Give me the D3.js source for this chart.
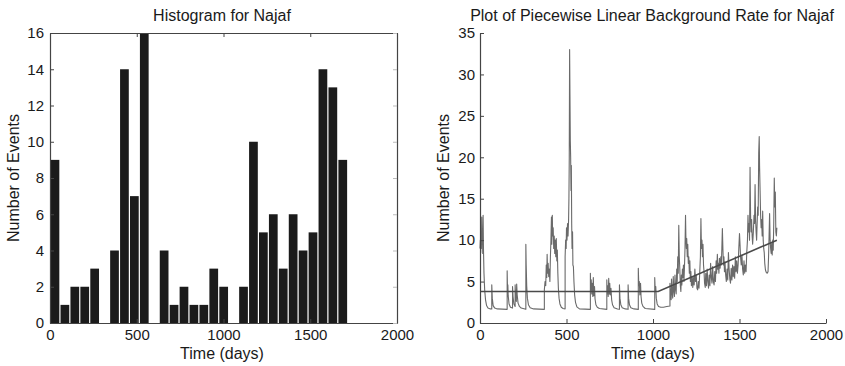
<!DOCTYPE html>
<html>
<head>
<meta charset="utf-8">
<script src="https://cdn.jsdelivr.net/npm/d3@7"></script>
<style>
  body { margin: 0; background: #fff; }
  svg { display: block; font-family: "Liberation Sans", Arial, sans-serif; }
  .tick text { fill: #1a1a1a; }
</style>
</head>
<body>
<script>
// histogram: events per bin (30 bins from day 0)
const histCounts = [9, 1, 2, 2, 3, 0, 4, 14, 7, 16, 0, 4, 1, 2, 1, 1, 3, 2, 0, 2, 10, 5, 6, 3, 6, 4, 5, 14, 13, 9];
const histBinWidth = 57.2; // days
const histYTicks = [0, 2, 4, 6, 8, 10, 12, 14, 16];
const xTicks = [0, 500, 1000, 1500, 2000];
const rateYTicks = [0, 5, 10, 15, 20, 25, 30, 35];

// piecewise linear background rate [day, value]
const backgroundRate = [[0, 3.8], [1030, 3.8], [1716, 10]];

// conditional intensity [day, value]
const intensity = [
  [0, 9], [2, 10], [4, 8.5], [6, 11], [8, 9], [10, 12.8], [12, 9.5], [14, 10.5], [16, 8.4], [18, 13], [20, 9],
  [23, 6], [27, 4], [32, 2.8], [38, 2.1], [46, 1.8], [60, 1.7], [68, 1.7], [68, 4.6], [71, 3], [76, 2.1],
  [85, 1.8], [100, 1.7], [157, 1.65], [157, 6.3], [159, 4], [161, 4.6], [163, 3.3], [168, 2.3], [176, 1.9],
  [188, 1.8], [188, 4.4], [191, 3.2], [196, 2.3], [203, 2], [203, 4.6], [206, 3.2], [210, 2.6], [212, 4.7],
  [215, 3.4], [220, 2.4], [228, 2], [238, 1.8], [265, 1.65], [265, 9.5], [267, 7], [270, 4.5], [274, 3],
  [280, 2.2], [290, 1.85], [310, 1.7], [372, 1.65], [372, 4], [376, 5], [380, 4.5], [383, 7], [386, 5.5],
  [388, 8.3], [391, 6], [394, 7.2], [397, 5.6], [400, 6.5], [404, 5], [407, 8], [410, 10], [413, 12.8],
  [415, 9.5], [418, 13], [420, 10.5], [423, 11.5], [426, 9], [429, 10.5], [432, 8.4], [435, 10], [438, 8],
  [441, 10.2], [444, 7.5], [447, 8.8], [450, 6], [453, 4.2], [457, 3], [462, 2.3], [470, 1.9], [480, 1.75],
  [492, 1.7], [492, 8], [495, 10], [498, 9], [500, 11.5], [503, 10], [506, 12], [509, 10.5], [512, 12.4],
  [514, 15], [516, 20], [518, 33], [520, 27.5], [522, 22], [524, 20], [526, 16], [528, 19], [530, 12],
  [532, 9], [535, 11], [537, 7], [540, 6.8], [543, 5], [547, 3.4], [552, 2.5], [560, 1.95], [575, 1.7],
  [638, 1.65], [638, 6], [640, 4], [643, 5.2], [646, 3.5], [649, 4.8], [652, 3.2], [655, 5.5], [658, 3.3],
  [662, 4.4], [665, 2.9], [670, 2.2], [678, 1.9], [690, 1.75], [733, 1.65], [733, 5.2], [735, 3.5],
  [738, 4.5], [741, 3.2], [744, 5.4], [747, 3.5], [750, 4.8], [753, 3.4], [757, 4.2], [761, 2.8], [766, 2.2],
  [775, 1.85], [795, 1.7], [806, 1.65], [806, 4.6], [809, 3], [814, 2.2], [822, 1.85], [840, 1.7],
  [856, 1.65], [856, 4.6], [859, 3], [864, 2.2], [872, 1.85], [890, 1.7], [915, 1.65], [915, 6.6],
  [918, 4.5], [921, 5], [924, 3.4], [928, 4.8], [931, 3.2], [935, 2.4], [942, 2], [955, 1.75], [1010, 1.65],
  [1010, 5.5], [1013, 3.8], [1016, 4.4], [1019, 3], [1024, 2.3], [1032, 2], [1045, 1.9], [1060, 1.9],
  [1080, 2], [1098, 2.05], [1098, 4.8], [1101, 3.4], [1105, 2.8], [1107, 5.3], [1110, 3.8], [1114, 3],
  [1117, 5.6], [1120, 4], [1124, 3.2], [1127, 5.8], [1130, 4.2], [1134, 3.5], [1137, 6.5], [1140, 5],
  [1143, 8], [1146, 6], [1149, 11.8], [1152, 8], [1155, 6.5], [1158, 4.5], [1161, 3.8], [1164, 5.8],
  [1167, 4.6], [1170, 6.5], [1173, 5.5], [1176, 7], [1179, 5], [1182, 6.8], [1185, 9], [1188, 13],
  [1190, 10.5], [1193, 9], [1195, 10.2], [1198, 8], [1201, 9.5], [1204, 7.2], [1207, 8], [1210, 6],
  [1213, 7.5], [1216, 5], [1219, 6.2], [1222, 4.5], [1226, 5.6], [1230, 4.3], [1234, 5.5], [1238, 4.6],
  [1242, 6.5], [1246, 5], [1250, 5.8], [1254, 4.2], [1258, 4], [1262, 5], [1266, 4.2], [1270, 6], [1274, 8],
  [1277, 12.6], [1280, 9], [1283, 10], [1286, 8], [1289, 9.5], [1292, 7], [1295, 6.2], [1298, 4.8],
  [1302, 4.3], [1305, 6], [1309, 4.5], [1313, 6.5], [1317, 5], [1321, 4.2], [1325, 5.8], [1329, 4.5],
  [1333, 7.2], [1337, 5.5], [1341, 4.8], [1345, 6.8], [1349, 5], [1353, 4.6], [1357, 6.2], [1361, 5],
  [1365, 7.5], [1368, 6], [1372, 8.3], [1375, 6.5], [1378, 7.2], [1381, 6], [1384, 7.8], [1388, 6.6],
  [1392, 8], [1395, 7], [1398, 9], [1401, 11.4], [1404, 9], [1407, 7], [1410, 8], [1413, 6.2], [1416, 7.4],
  [1420, 5.8], [1424, 5], [1428, 6.5], [1432, 5.2], [1436, 8.5], [1440, 6.5], [1444, 5.3], [1448, 4.8],
  [1452, 6.6], [1456, 5.2], [1460, 7], [1464, 5.6], [1468, 6.8], [1472, 5.4], [1476, 8], [1480, 6.2],
  [1484, 7.5], [1488, 6], [1492, 7], [1496, 9], [1500, 10.8], [1503, 9.5], [1506, 8], [1510, 7],
  [1514, 8.2], [1518, 6.5], [1522, 5.8], [1526, 7.5], [1530, 6], [1534, 7], [1538, 6.2], [1542, 8.5],
  [1546, 10], [1549, 13], [1552, 11], [1555, 12], [1558, 10], [1561, 18.8], [1564, 13], [1567, 11],
  [1570, 12.5], [1573, 10.5], [1576, 9.5], [1580, 11], [1584, 13], [1587, 12], [1590, 16.7], [1593, 12.5],
  [1596, 11], [1599, 10], [1602, 12], [1605, 14], [1608, 13], [1611, 20.5], [1614, 22.5], [1616, 19],
  [1619, 16], [1622, 13], [1625, 11.5], [1628, 12.5], [1631, 10.5], [1634, 13.5], [1637, 10], [1640, 9],
  [1643, 8.5], [1646, 7.2], [1650, 6.4], [1655, 6.1], [1660, 6], [1665, 6.2], [1668, 8], [1671, 10.5],
  [1674, 13.2], [1677, 10], [1680, 9], [1683, 8.4], [1686, 9.6], [1689, 8.2], [1692, 10], [1695, 8.8],
  [1698, 12], [1701, 17.5], [1704, 14], [1707, 15.8], [1710, 11], [1713, 10.5], [1716, 11.5]
];

const W = 845, H = 366;
const svg = d3.select("body").append("svg").attr("width", W).attr("height", H);

const plotTop = 33, plotBottom = 323;
const fmt = d3.format("d");

// left panel: histogram
const hx = d3.scaleLinear().domain([0, 2000]).range([50, 397]);
const hy = d3.scaleLinear().domain([0, 16]).range([plotBottom, plotTop]);
const leftG = svg.append("g");

leftG.selectAll("rect.bar")
  .data(histCounts)
  .enter().append("rect")
  .attr("class", "bar")
  .attr("x", (d, i) => hx(i * histBinWidth) + 0.6)
  .attr("width", hx(histBinWidth) - hx(0) - 1.2)
  .attr("y", d => hy(d))
  .attr("height", d => hy(0) - hy(d))
  .attr("fill", "#1b1b1b");

function styleAxis(g) {
  g.select(".domain").attr("stroke", "#444").attr("stroke-width", 1.2);
  g.selectAll(".tick line").attr("stroke", "#444");
  g.selectAll(".tick text").attr("font-size", 15);
}

leftG.append("g").attr("transform", `translate(0,${plotBottom})`)
  .call(d3.axisBottom(hx).tickValues(xTicks).tickFormat(fmt).tickSizeInner(-4).tickSizeOuter(0).tickPadding(6))
  .call(styleAxis);
leftG.append("g").attr("transform", `translate(0,${plotTop})`)
  .call(d3.axisTop(hx).tickValues(xTicks).tickSizeInner(-4).tickSizeOuter(0).tickFormat(""))
  .call(styleAxis);
leftG.append("g").attr("transform", `translate(50,0)`)
  .call(d3.axisLeft(hy).tickValues(histYTicks).tickFormat(fmt).tickSizeInner(-4).tickSizeOuter(0).tickPadding(6))
  .call(styleAxis);
leftG.append("g").attr("transform", `translate(397,0)`)
  .call(d3.axisRight(hy).tickValues(histYTicks).tickSizeInner(-4).tickSizeOuter(0).tickFormat(""))
  .call(g => { styleAxis(g); g.selectAll(".tick line").attr("stroke", "#bbb"); });

leftG.append("text").attr("x", 222).attr("y", 21).attr("text-anchor", "middle")
  .attr("font-size", 16).attr("fill", "#1a1a1a").text("Histogram for Najaf");
leftG.append("text").attr("x", 222).attr("y", 359).attr("text-anchor", "middle")
  .attr("font-size", 16).attr("fill", "#1a1a1a").text("Time (days)");
leftG.append("text").attr("transform", "translate(19,178) rotate(-90)").attr("text-anchor", "middle")
  .attr("font-size", 16).attr("fill", "#1a1a1a").text("Number of Events");

// right panel: rate
const rx = d3.scaleLinear().domain([0, 2000]).range([480, 826]);
const ry = d3.scaleLinear().domain([0, 35]).range([plotBottom, plotTop]);
const rightG = svg.append("g");

const line = d3.line().x(d => rx(d[0])).y(d => ry(d[1]));

rightG.append("path").datum(intensity)
  .attr("fill", "none").attr("stroke", "#6a6a6a").attr("stroke-width", 1.1)
  .attr("stroke-linejoin", "round").attr("d", line);
rightG.append("path").datum(backgroundRate)
  .attr("fill", "none").attr("stroke", "#4a4a4a").attr("stroke-width", 1.6).attr("d", line);

rightG.append("g").attr("transform", `translate(0,${plotBottom})`)
  .call(d3.axisBottom(rx).tickValues(xTicks).tickFormat(fmt).tickSizeInner(-4).tickSizeOuter(0).tickPadding(6))
  .call(styleAxis);
rightG.append("g").attr("transform", `translate(480,0)`)
  .call(d3.axisLeft(ry).tickValues(rateYTicks).tickFormat(fmt).tickSizeInner(-4).tickSizeOuter(0).tickPadding(5))
  .call(styleAxis);

rightG.append("text").attr("x", 652).attr("y", 21).attr("text-anchor", "middle")
  .attr("font-size", 16).attr("fill", "#1a1a1a").text("Plot of Piecewise Linear Background Rate for Najaf");
rightG.append("text").attr("x", 653).attr("y", 359).attr("text-anchor", "middle")
  .attr("font-size", 16).attr("fill", "#1a1a1a").text("Time (days)");
rightG.append("text").attr("transform", "translate(449,178) rotate(-90)").attr("text-anchor", "middle")
  .attr("font-size", 16).attr("fill", "#1a1a1a").text("Number of Events");
</script>
</body>
</html>
